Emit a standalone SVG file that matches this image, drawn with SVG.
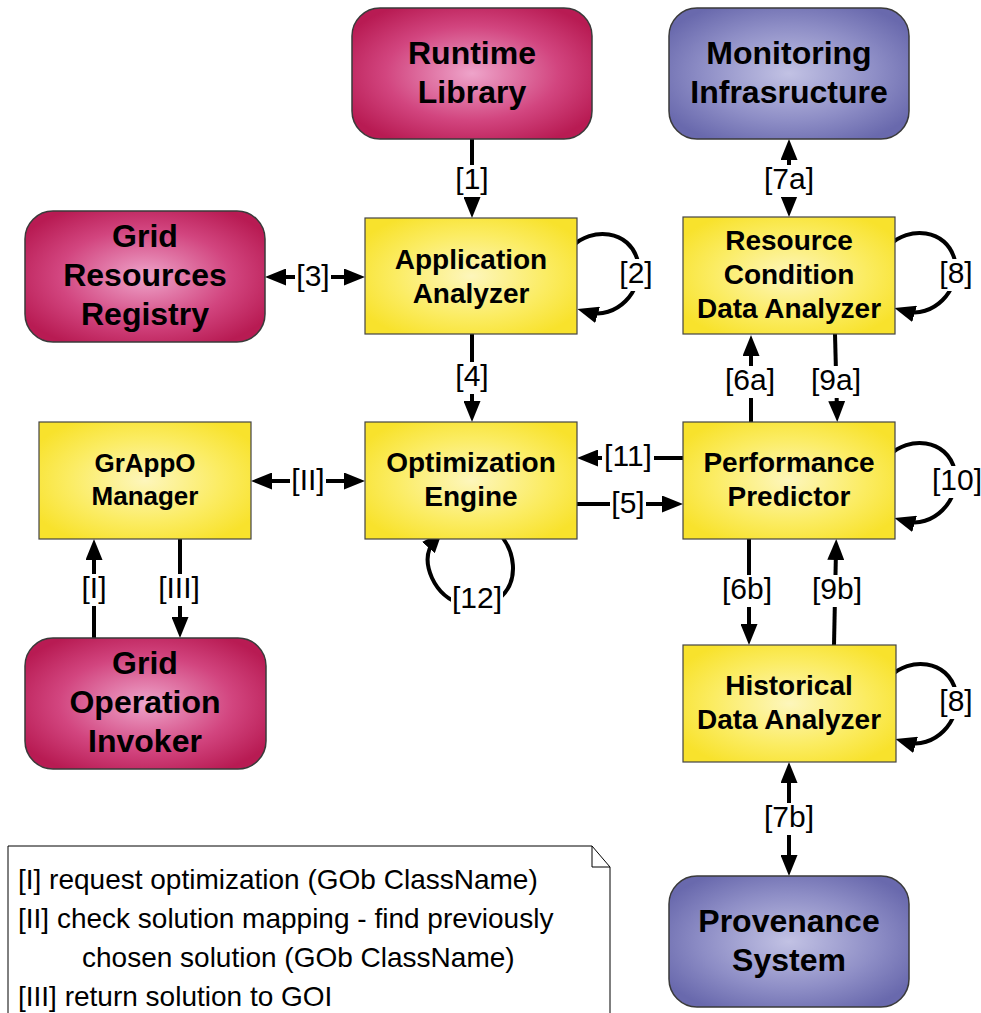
<svg xmlns="http://www.w3.org/2000/svg" width="981" height="1013" viewBox="0 0 981 1013">
<style>
.ext{stroke:#3a3a3a;stroke-width:1.5}
.mag{fill:url(#gm)}
.blu{fill:url(#gb)}
.yel{fill:url(#gy);stroke:#444;stroke-width:1.2}
.big{font-family:"Liberation Sans",Arial,sans-serif;font-weight:bold;font-size:32px;text-anchor:middle;fill:#000}
.mid{font-family:"Liberation Sans",Arial,sans-serif;font-weight:bold;font-size:28px;text-anchor:middle;fill:#000}
.sml{font-family:"Liberation Sans",Arial,sans-serif;font-weight:bold;font-size:26px;text-anchor:middle;fill:#000}
.lbl{font-family:"Liberation Sans",Arial,sans-serif;font-size:30px;text-anchor:middle;fill:#000}
.bg{fill:#fff}
.con{fill:none;stroke:#000;stroke-width:4}
.arr{marker-end:url(#ah)}
.dbl{marker-end:url(#ah);marker-start:url(#ahs)}
.note{font-family:"Liberation Sans",Arial,sans-serif;font-size:28px;fill:#000}
</style>
<defs>
<radialGradient id="gm" cx="50%" cy="50%" r="60%">
<stop offset="0" stop-color="#eea4ca"/>
<stop offset="0.6" stop-color="#d2457f"/>
<stop offset="1" stop-color="#b81b53"/>
</radialGradient>
<radialGradient id="gb" cx="50%" cy="50%" r="60%">
<stop offset="0" stop-color="#c2c2e4"/>
<stop offset="0.6" stop-color="#8e8ec6"/>
<stop offset="1" stop-color="#6969ad"/>
</radialGradient>
<radialGradient id="gy" cx="50%" cy="50%" r="60%">
<stop offset="0" stop-color="#fdf6bc"/>
<stop offset="0.6" stop-color="#fbec62"/>
<stop offset="1" stop-color="#f8e22c"/>
</radialGradient>
<marker id="ah" markerUnits="userSpaceOnUse" markerWidth="21" markerHeight="17" refX="10" refY="8.5" orient="auto" viewBox="0 0 21 17">
<path d="M0,0 L21,8.5 L0,17 z" fill="#000"/>
</marker>
<marker id="ahs" markerUnits="userSpaceOnUse" markerWidth="21" markerHeight="17" refX="10" refY="8.5" orient="auto-start-reverse" viewBox="0 0 21 17">
<path d="M0,0 L21,8.5 L0,17 z" fill="#000"/>
</marker>
</defs>
<rect width="981" height="1013" fill="#fff"/>

<g id="connectors">
<path class="con arr" d="M472,139 L472,207"/>
<path class="con dbl" d="M276,277 L354,277"/>
<path class="con arr" d="M472,334 L472,411"/>
<path class="con dbl" d="M262,481 L354,481"/>
<path class="con arr" d="M577,504 L672,504"/>
<path class="con arr" d="M683,458 L588,458"/>
<path class="con arr" d="M751,422 L751,346"/>
<path class="con arr" d="M835,334 L837,411"/>
<path class="con arr" d="M749,539 L749,634"/>
<path class="con arr" d="M834,645 L836,550"/>
<path class="con dbl" d="M789,150 L789,206"/>
<path class="con dbl" d="M789,773 L789,865"/>
<path class="con arr" d="M94,638 L94,550"/>
<path class="con arr" d="M180,539 L180,627"/>
<path class="con arr" d="M573,246 C590,228 630,228 638,262 C644,292 615,320 588,312"/>
<path class="con arr" d="M890,245 C907,227 947,227 955,261 C961,291 932,319 905,311"/>
<path class="con arr" d="M890,455 C907,437 947,437 955,471 C961,501 932,529 905,521"/>
<path class="con arr" d="M891,676 C908,658 948,658 956,692 C962,722 933,750 906,742"/>
<path class="con arr" d="M498,532 C515,550 520,580 500,598 C478,614 445,606 432,578 C424,560 428,548 435,540"/>

<rect class="bg" x="454" y="165" width="36" height="32"/><text class="lbl" x="472" y="189">[1]</text>
<rect class="bg" x="295" y="262" width="36" height="32"/><text class="lbl" x="313" y="286">[3]</text>
<rect class="bg" x="454" y="362" width="36" height="32"/><text class="lbl" x="472" y="386">[4]</text>
<rect class="bg" x="290" y="466" width="36" height="32"/><text class="lbl" x="308" y="490">[II]</text>
<rect class="bg" x="610" y="489" width="36" height="32"/><text class="lbl" x="628" y="513">[5]</text>
<rect class="bg" x="602" y="442" width="52" height="32"/><text class="lbl" x="628" y="466">[11]</text>
<rect class="bg" x="724" y="366" width="52" height="32"/><text class="lbl" x="750" y="390">[6a]</text>
<rect class="bg" x="810" y="366" width="52" height="32"/><text class="lbl" x="836" y="390">[9a]</text>
<rect class="bg" x="721" y="575" width="52" height="32"/><text class="lbl" x="747" y="599">[6b]</text>
<rect class="bg" x="811" y="575" width="52" height="32"/><text class="lbl" x="837" y="599">[9b]</text>
<rect class="bg" x="763" y="165" width="52" height="32"/><text class="lbl" x="789" y="189">[7a]</text>
<rect class="bg" x="763" y="803" width="52" height="32"/><text class="lbl" x="789" y="827">[7b]</text>
<rect class="bg" x="80" y="574" width="28" height="32"/><text class="lbl" x="94" y="598">[I]</text>
<rect class="bg" x="157" y="574" width="45" height="32"/><text class="lbl" x="179" y="598">[III]</text>
<rect class="bg" x="618" y="259" width="36" height="32"/><text class="lbl" x="636" y="283">[2]</text>
<rect class="bg" x="938" y="259" width="36" height="32"/><text class="lbl" x="956" y="283">[8]</text>
<rect class="bg" x="931" y="466" width="52" height="32"/><text class="lbl" x="957" y="490">[10]</text>
<rect class="bg" x="938" y="687" width="36" height="32"/><text class="lbl" x="956" y="711">[8]</text>
<rect class="bg" x="451" y="584" width="52" height="32"/><text class="lbl" x="477" y="608">[12]</text>
</g>

<g id="runtime-library">
<rect class="ext mag" x="352" y="8" width="240" height="131" rx="28"/>
<text class="big" x="472" y="64">Runtime</text>
<text class="big" x="472" y="103">Library</text>
</g>
<g id="monitoring-infrastructure">
<rect class="ext blu" x="669" y="8" width="240" height="131" rx="28"/>
<text class="big" x="789" y="64">Monitoring</text>
<text class="big" x="789" y="103">Infrasructure</text>
</g>
<g id="grid-resources-registry">
<rect class="ext mag" x="25" y="211" width="240" height="131" rx="28"/>
<text class="big" x="145" y="247">Grid</text>
<text class="big" x="145" y="286">Resources</text>
<text class="big" x="145" y="325">Registry</text>
</g>
<g id="application-analyzer">
<rect class="yel" x="365" y="218" width="212" height="116"/>
<text class="mid" x="471" y="269">Application</text>
<text class="mid" x="471" y="303">Analyzer</text>
</g>
<g id="resource-condition-data-analyzer">
<rect class="yel" x="683" y="217" width="212" height="117"/>
<text class="mid" x="789" y="250">Resource</text>
<text class="mid" x="789" y="284">Condition</text>
<text class="mid" x="789" y="318">Data Analyzer</text>
</g>
<g id="grappo-manager">
<rect class="yel" x="39" y="422" width="212" height="117"/>
<text class="sml" x="145" y="472">GrAppO</text>
<text class="sml" x="145" y="505">Manager</text>
</g>
<g id="optimization-engine">
<rect class="yel" x="365" y="422" width="212" height="117"/>
<text class="mid" x="471" y="472">Optimization</text>
<text class="mid" x="471" y="506">Engine</text>
</g>
<g id="performance-predictor">
<rect class="yel" x="683" y="422" width="212" height="117"/>
<text class="mid" x="789" y="472">Performance</text>
<text class="mid" x="789" y="506">Predictor</text>
</g>
<g id="grid-operation-invoker">
<rect class="ext mag" x="25" y="638" width="241" height="131" rx="28"/>
<text class="big" x="145" y="674">Grid</text>
<text class="big" x="145" y="713">Operation</text>
<text class="big" x="145" y="752">Invoker</text>
</g>
<g id="historical-data-analyzer">
<rect class="yel" x="683" y="645" width="213" height="117"/>
<text class="mid" x="789" y="695">Historical</text>
<text class="mid" x="789" y="729">Data Analyzer</text>
</g>
<g id="provenance-system">
<rect class="ext blu" x="669" y="876" width="240" height="131" rx="28"/>
<text class="big" x="789" y="932">Provenance</text>
<text class="big" x="789" y="971">System</text>
</g>
<g id="legend-note">
<path d="M8,1020 L8,846 L592,846 L610,867 L610,1020" fill="#fff" stroke="#000" stroke-width="1"/>
<path d="M592,846 L592,867 L610,867" fill="none" stroke="#000" stroke-width="1"/>
<text class="note" x="18" y="889">[I] request optimization (GOb ClassName)</text>
<text class="note" x="18" y="928">[II] check solution mapping - find previously</text>
<text class="note" x="82" y="967">chosen solution (GOb ClassName)</text>
<text class="note" x="18" y="1006">[III] return solution to GOI</text>
</g>
</svg>
